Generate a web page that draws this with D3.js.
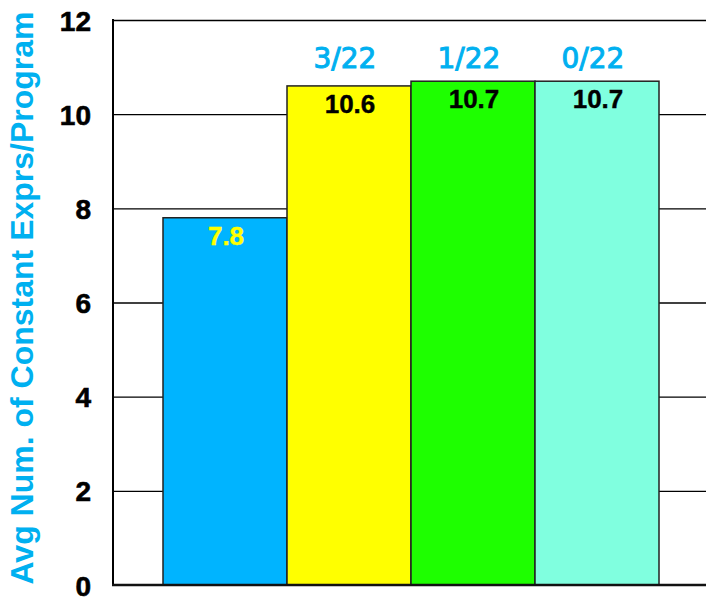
<!DOCTYPE html>
<html>
<head>
<meta charset="utf-8">
<script src="https://cdn.jsdelivr.net/npm/d3@7"></script>
<style>
  html, body { margin: 0; padding: 0; background: #fff; }
  svg { display: block; }
</style>
</head>
<body>
<script>
// Average number of constant expressions per program, by configuration
const categories = ["baseline", "variant 3/22", "variant 1/22", "variant 0/22"];
const values = [7.8, 10.6, 10.7, 10.7];
const fractionLabels = ["", "3/22", "1/22", "0/22"];
const barColors = ["#00B4FF", "#FFFF00", "#1EFF00", "#80FFDF"];
const valueLabelColors = ["#FFFF00", "#000000", "#000000", "#000000"];
const yTicks = [0, 2, 4, 6, 8, 10, 12];
const yTitle = "Avg Num. of Constant Exprs/Program";

const W = 706, H = 601;
const plotLeft = 113, plotRight = 706, plotTop = 20, plotBottom = 585;

const svg = d3.select("body").append("svg")
  .attr("width", W).attr("height", H);

const y = d3.scaleLinear().domain([0, 12]).range([plotBottom, plotTop]);
const x = d3.scaleBand().domain(categories).range([163, 659]).padding(0);

const font = "'Liberation Sans', Arial, Helvetica, sans-serif";

// Y axis with gridlines spanning the plot
const yAxis = d3.axisLeft(y)
  .tickValues(yTicks)
  .tickSizeInner(-(plotRight - plotLeft))
  .tickSizeOuter(0)
  .tickPadding(22)
  .tickFormat(d3.format("d"));

const gy = svg.append("g")
  .attr("transform", `translate(${plotLeft},0)`)
  .call(yAxis);
gy.select(".domain").remove();
gy.selectAll(".tick line")
  .attr("stroke", "#000")
  .attr("stroke-width", 1.3)
  .attr("display", d => d === 0 ? "none" : null);
gy.selectAll(".tick text")
  .attr("fill", "#000")
  .attr("stroke", "#000")
  .attr("stroke-width", 0.6)
  .attr("font-family", font)
  .attr("font-weight", "bold")
  .attr("font-size", 28)
  .attr("dy", "0.36em");

// Bars
svg.append("g").selectAll("rect")
  .data(values)
  .join("rect")
  .attr("x", (d, i) => x(categories[i]))
  .attr("y", d => y(d))
  .attr("width", x.bandwidth())
  .attr("height", d => y(0) - y(d))
  .attr("fill", (d, i) => barColors[i])
  .attr("stroke", "#222")
  .attr("stroke-width", 1.5);

// Value labels inside bars
svg.append("g").selectAll("text")
  .data(values)
  .join("text")
  .attr("x", (d, i) => x(categories[i]) + x.bandwidth() / 2 + 1)
  .attr("y", d => y(d) + 27)
  .attr("text-anchor", "middle")
  .attr("font-family", font)
  .attr("font-weight", "bold")
  .attr("font-size", 26)
  .attr("fill", (d, i) => valueLabelColors[i])
  .attr("stroke", (d, i) => valueLabelColors[i])
  .attr("stroke-width", 0.4)
  .text(d => d3.format(".1f")(d));

// Fraction labels above bars
svg.append("g").selectAll("text")
  .data(fractionLabels)
  .join("text")
  .attr("x", (d, i) => x(categories[i]) + x.bandwidth() / 2 - 4)
  .attr("y", 68)
  .attr("text-anchor", "middle")
  .attr("font-family", "'Comic Sans MS', 'DejaVu Sans', sans-serif")
  .attr("font-size", 28)
  .attr("fill", "#00B0F0")
  .attr("stroke", "#00B0F0")
  .attr("stroke-width", 1)
  .text(d => d);

// Axis lines
svg.append("line")
  .attr("x1", plotLeft).attr("x2", plotLeft)
  .attr("y1", plotTop - 1).attr("y2", plotBottom + 1)
  .attr("stroke", "#000").attr("stroke-width", 2);
svg.append("line")
  .attr("x1", plotLeft - 1).attr("x2", plotRight)
  .attr("y1", plotBottom).attr("y2", plotBottom)
  .attr("stroke", "#111").attr("stroke-width", 2.5);

// Y axis title
svg.append("text")
  .attr("transform", `translate(33,${(10 + 586) / 2}) rotate(-90)`)
  .attr("text-anchor", "middle")
  .attr("font-family", font)
  .attr("font-weight", "bold")
  .attr("font-size", 32)
  .attr("fill", "#00B0F0")
  .text(yTitle);
</script>
</body>
</html>
